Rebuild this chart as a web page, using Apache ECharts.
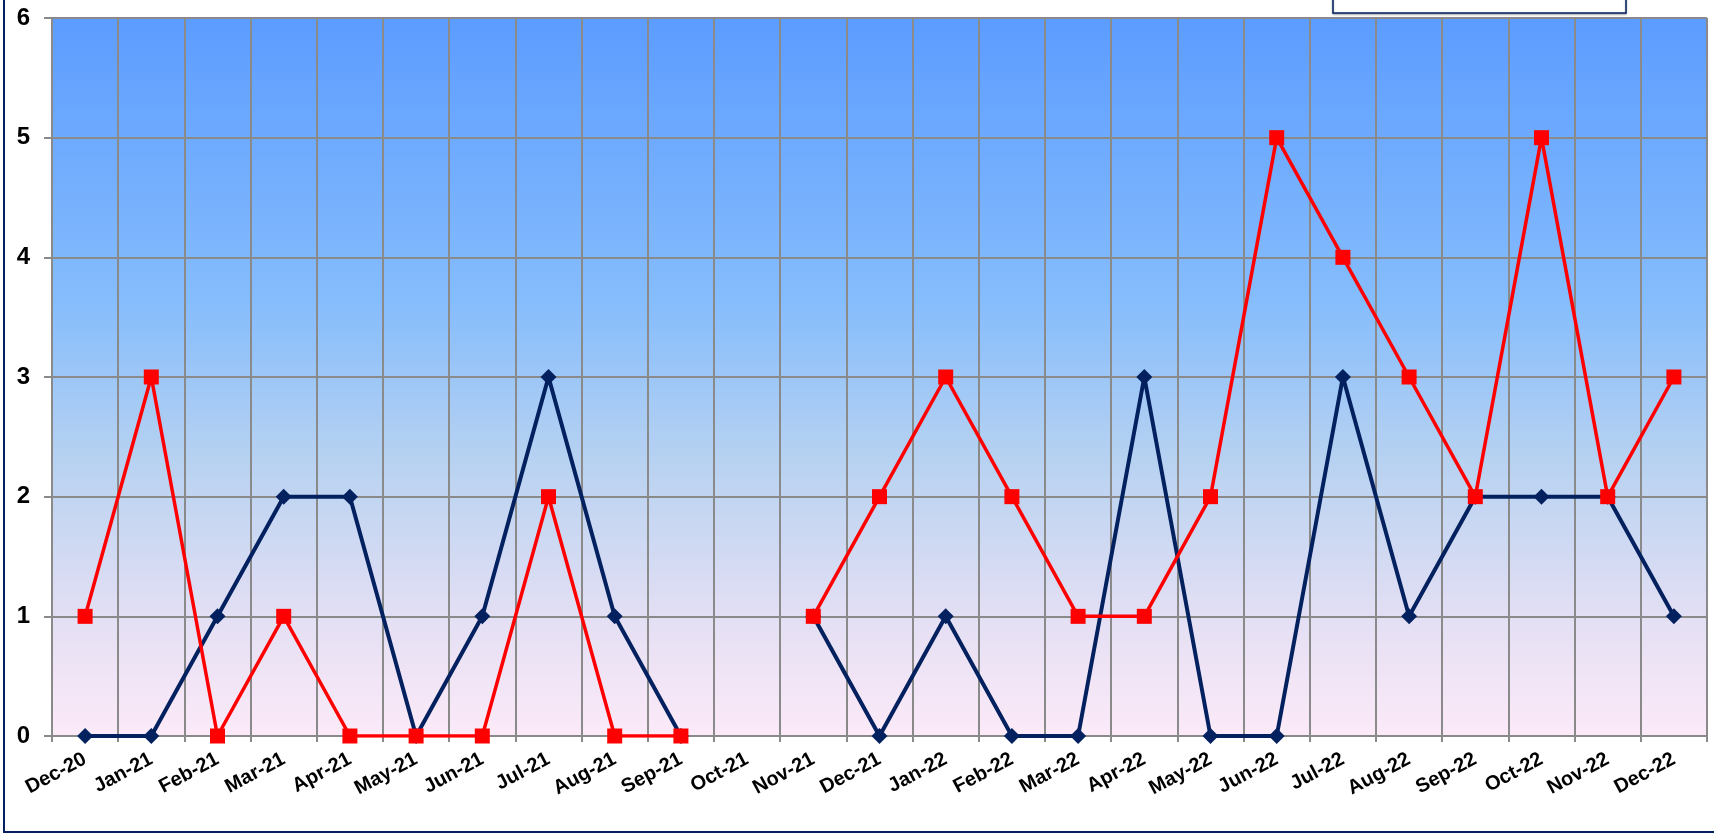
<!DOCTYPE html>
<html>
<head>
<meta charset="utf-8">
<script src="https://cdn.jsdelivr.net/npm/echarts@6/dist/echarts.min.js"></script>
<style>
  html, body { margin: 0; padding: 0; background: #fff; }
  #chart { width: 1714px; height: 836px; }
</style>
</head>
<body>
<div id="chart"></div>
<script>
// 月份
var months = ['Dec-20', 'Jan-21', 'Feb-21', 'Mar-21', 'Apr-21', 'May-21', 'Jun-21', 'Jul-21', 'Aug-21', 'Sep-21',
  'Oct-21', 'Nov-21', 'Dec-21', 'Jan-22', 'Feb-22', 'Mar-22', 'Apr-22', 'May-22', 'Jun-22', 'Jul-22',
  'Aug-22', 'Sep-22', 'Oct-22', 'Nov-22', 'Dec-22'];
// 深蓝色菱形系列
var navyValues = [0, 0, 1, 2, 2, 0, 1, 3, 1, 0, null, 1, 0, 1, 0, 0, 3, 0, 0, 3, 1, 2, 2, 2, 1];
// 红色方块系列
var redValues = [1, 3, 0, 1, 0, 0, 0, 2, 0, 0, null, 1, 2, 3, 2, 1, 1, 2, 5, 4, 3, 2, 5, 2, 3];
// y 轴刻度
var yMin = 0, yMax = 6, yStep = 1;

var font = 'Liberation Sans, Arial, sans-serif';
var gridGray = '#8a8a8a';
var navy = '#03205f';

var myChart = echarts.init(document.getElementById('chart'));

var option = {
  animation: false,
  grid: {
    left: 52,
    right: 7,
    top: 18,
    bottom: 100,
    show: true,
    borderWidth: 0,
    backgroundColor: new echarts.graphic.LinearGradient(0, 0, 0, 1, [
      { offset: 0, color: '#5c9cff' },
      { offset: 0.4, color: '#86bdfc' },
      { offset: 0.62, color: '#b8d2f1' },
      { offset: 0.85, color: '#e6e0f4' },
      { offset: 1, color: '#fceaf8' }
    ])
  },
  // 外框和顶部图例框（被裁掉了）
  graphic: [
    {
      type: 'rect',
      shape: { x: 4, y: -10, width: 1740, height: 842 },
      style: { fill: 'none', stroke: navy, lineWidth: 2 },
      silent: true
    },
    {
      type: 'rect',
      shape: { x: 1333, y: -10, width: 293, height: 23 },
      style: { fill: '#fff', stroke: navy, lineWidth: 1.5, shadowColor: 'rgba(0,0,0,0.3)', shadowBlur: 2, shadowOffsetY: 1 },
      silent: true
    }
  ],
  xAxis: {
    type: 'category',
    data: months,
    boundaryGap: true,
    axisLine: { lineStyle: { color: gridGray, width: 2 } },
    axisTick: { show: true, length: 6, lineStyle: { color: gridGray, width: 2 } },
    splitLine: { show: true, lineStyle: { color: gridGray, width: 2 } },
    axisLabel: {
      interval: 0,
      rotate: 28,
      margin: 22,
      color: '#000',
      fontFamily: font,
      fontWeight: 'bold',
      fontSize: 20
    }
  },
  yAxis: {
    type: 'value',
    min: yMin,
    max: yMax,
    interval: yStep,
    axisLine: { show: true, lineStyle: { color: gridGray, width: 2 } },
    axisTick: { show: true, length: 8, lineStyle: { color: gridGray, width: 2 } },
    splitLine: { show: true, lineStyle: { color: gridGray, width: 2 } },
    axisLabel: {
      margin: 22,
      color: '#000',
      fontFamily: font,
      fontWeight: 'bold',
      fontSize: 24
    }
  },
  series: [
    {
      name: 'navy',
      type: 'line',
      data: navyValues,
      connectNulls: false,
      symbol: 'diamond',
      symbolSize: [16, 16],
      lineStyle: { color: navy, width: 4 },
      itemStyle: { color: navy },
      z: 2
    },
    {
      name: 'red',
      type: 'line',
      data: redValues,
      connectNulls: false,
      symbol: 'rect',
      symbolSize: 15,
      lineStyle: { color: '#ff0000', width: 3.5 },
      itemStyle: { color: '#ff0000' },
      z: 3
    }
  ]
};

myChart.setOption(option);
</script>
</body>
</html>
